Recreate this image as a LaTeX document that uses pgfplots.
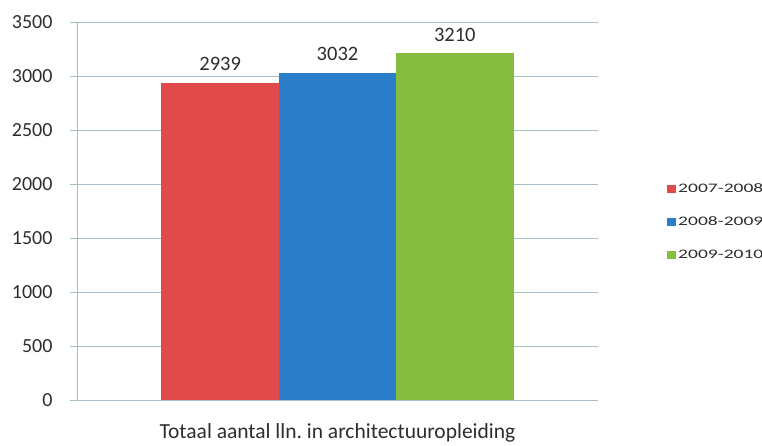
\documentclass[border=0pt]{standalone}
\usepackage{pgfplots}
\pgfplotsset{compat=1.18}
\usepackage{fontspec}
\setmainfont{Carlito}
\definecolor{cred}{RGB}{224,74,74}
\definecolor{cblue}{RGB}{42,125,200}
\definecolor{cgreen}{RGB}{134,188,64}
\definecolor{cgrid}{RGB}{165,190,200}
\definecolor{ctext}{RGB}{45,45,45}
\newcommand{\legtxt}[1]{\scalebox{1.5}[1]{#1}}
\begin{document}
\frenchspacing
\begin{tikzpicture}
\begin{axis}[
  at={(77pt,46pt)}, anchor=south west,
  scale only axis, width=521pt, height=378pt,
  xmin=-2.22, xmax=2.22, ymin=0, ymax=3500,
  ytick={0,500,...,3500}, xtick=\empty,
  axis lines*=left,
  axis line style={cgrid, line width=0.8pt},
  ymajorgrids, grid style={cgrid, line width=0.8pt},
  tick align=outside, major tick length=7pt,
  tick style={cgrid, line width=0.8pt},
  /pgf/number format/assume math mode=true,
  /pgf/number format/1000 sep={},
  yticklabel style={font=\fontsize{20}{22}\selectfont, text=ctext, xshift=-14pt},
  ybar, bar width=1, bar shift=0,
  nodes near coords,
  nodes near coords style={font=\fontsize{20.5}{22}\selectfont, text=ctext, /pgf/number format/1000 sep={}, yshift=8pt},
  xlabel={Totaal aantal lln.\ in architectuuropleiding},
  xlabel style={font=\fontsize{21.5}{24}\selectfont, text=ctext, at={(axis description cs:0.5,0)}, anchor=center, yshift=-33pt},
  legend style={draw=none, fill=none, at={(rel axis cs:1.1325,0.471)}, anchor=west, font=\fontsize{13}{15}\selectfont, text=ctext, row sep=19pt, inner sep=0pt},
  legend cell align=left,
  legend image code/.code={\fill[#1] (0pt,-4pt) rectangle (9pt,4pt);},
]
\addplot[fill=cred, draw=none] coordinates {(-1,2939)};
\addplot[fill=cblue, draw=none] coordinates {(0,3032)};
\addplot[fill=cgreen, draw=none] coordinates {(1,3210)};
\legend{\legtxt{2007-2008},\legtxt{2008-2009},\legtxt{2009-2010}}
\end{axis}
\pgfresetboundingbox
\useasboundingbox (0,0) rectangle (762pt,446pt);
\end{tikzpicture}
\end{document}
